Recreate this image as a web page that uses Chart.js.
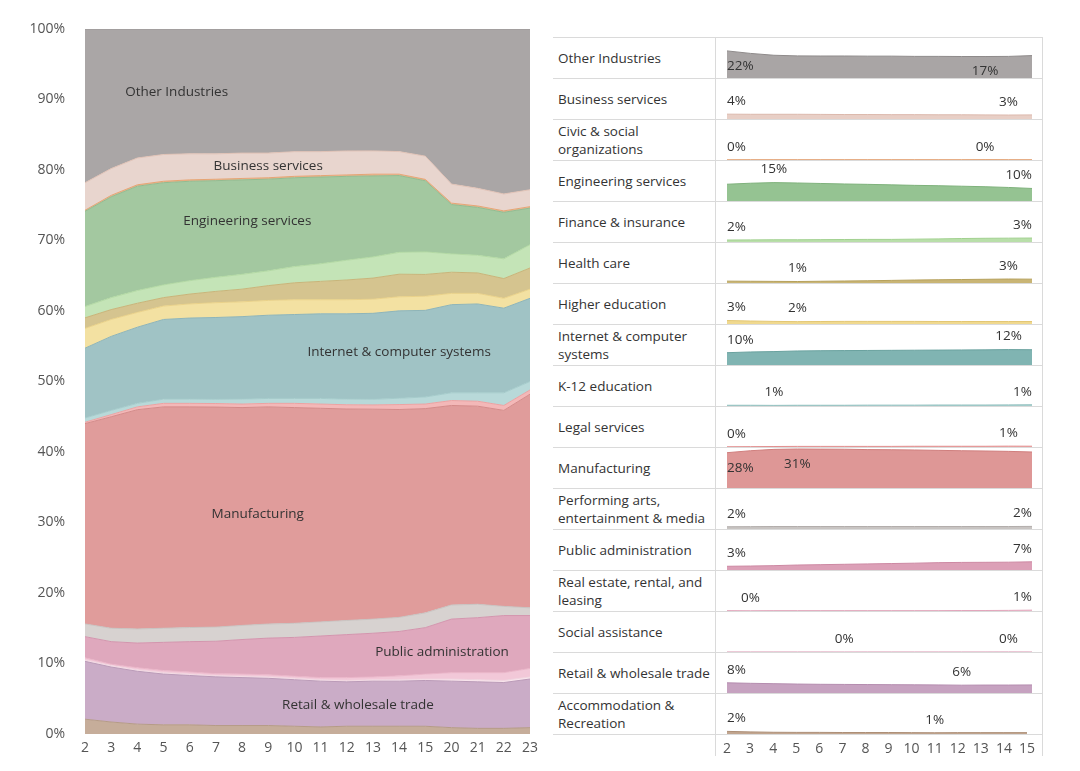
<!DOCTYPE html>
<html><head><meta charset="utf-8">
<script src="https://cdn.jsdelivr.net/npm/chart.js@4.4.1/dist/chart.umd.min.js"></script>
<style>
html,body{margin:0;padding:0;background:#fff;width:1080px;height:771px;overflow:hidden;font-family:"Open Sans",sans-serif;}
#left{position:absolute;left:0;top:0;}
.hline{position:absolute;left:553px;width:489px;height:1px;background:#dadada;}
.vline{position:absolute;width:1px;background:#dadada;}
.lbl{position:absolute;left:558px;width:158px;height:41px;display:flex;align-items:center;font-size:13.5px;line-height:18px;color:#333;white-space:pre-line;}
.cv{position:absolute;left:715px;}
</style>
</head><body>
<canvas id="left" width="545" height="771"></canvas>
<div id="right"></div>
<script>
// ---------- data ----------
const xLabels = ['2','3','4','5','6','7','8','9','10','11','12','13','14','15','20','21','22','23'];
const rightCount = 14; // right panel shows 2..15

const otherIndustries = [21.8,19.8,18.3,17.8,17.7,17.7,17.6,17.6,17.4,17.4,17.3,17.3,17.4,18.05,22.0,22.6,23.4,22.8];
const businessServices = [3.9,3.8,3.8,3.8,3.7,3.6,3.6,3.5,3.5,3.4,3.4,3.3,3.2,3.3,2.7,2.5,2.4,2.4];
const civicSocial = [0.15,0.2,0.2,0.2,0.2,0.2,0.2,0.2,0.2,0.2,0.2,0.25,0.2,0.2,0.2,0.2,0.2,0.2];
const engineering = [13.5,14.3,14.8,14.5,14.1,13.7,13.4,13.0,12.6,12.3,11.9,11.5,10.9,10.1,7.0,6.8,6.6,5.2];
const finance = [1.6,1.7,1.8,1.8,1.9,2.0,2.1,2.1,2.3,2.5,2.8,3.0,3.1,3.2,2.6,2.5,2.8,3.3];
const healthCare = [1.5,1.4,1.3,1.2,1.4,1.6,1.8,2.1,2.4,2.6,2.8,3.0,3.2,3.1,3.0,2.9,2.8,3.0];
const higherEducation = [2.8,2.4,2.1,1.9,2.0,2.1,2.1,2.1,2.1,2.0,2.0,2.0,2.0,2.0,1.6,1.5,1.4,1.3];
const internetComputer = [9.9,10.5,10.8,11.3,11.5,11.6,11.7,11.8,11.9,12.0,12.1,12.2,12.4,12.3,12.5,12.6,12.0,11.8];
const k12Education = [0.6,0.6,0.5,0.6,0.6,0.6,0.7,0.7,0.7,0.8,0.8,0.8,0.9,1.0,1.1,1.2,1.8,1.2];
const legalServices = [0.2,0.3,0.4,0.5,0.5,0.5,0.5,0.5,0.6,0.6,0.6,0.6,0.7,0.65,0.7,0.7,0.7,0.6];
const manufacturing = [28.4,30.0,31.1,31.4,31.3,31.2,30.9,30.8,30.6,30.3,30.0,29.8,29.5,29.0,28.3,28.1,27.8,30.3];
const performingArts = [1.8,1.9,2.0,2.0,2.0,2.0,2.0,2.0,2.0,2.0,2.0,2.0,2.0,2.1,2.0,1.9,1.3,1.1];
const publicAdmin = [3.0,3.2,3.5,4.0,4.3,4.6,4.9,5.2,5.5,5.9,6.1,6.2,6.3,6.6,7.6,7.8,8.1,7.5];
const realEstate = [0.3,0.2,0.3,0.3,0.3,0.3,0.3,0.3,0.3,0.3,0.4,0.4,0.5,0.7,0.9,1.0,1.1,1.2];
const socialAssistance = [0.2,0.2,0.2,0.2,0.2,0.15,0.2,0.2,0.2,0.2,0.2,0.2,0.25,0.2,0.3,0.3,0.3,0.3];
const retailWholesale = [8.2,7.8,7.5,7.2,7.0,6.9,6.8,6.7,6.6,6.5,6.3,6.4,6.4,6.5,6.6,6.6,6.5,6.9];
const accommodation = [2.1,1.7,1.4,1.3,1.3,1.2,1.2,1.2,1.1,1.0,1.1,1.1,1.1,1.1,0.9,0.8,0.8,0.9];

// top-to-bottom order (as in the right panel)
const seriesNames = ['Other Industries','Business services','Civic & social\norganizations','Engineering services','Finance & insurance','Health care','Higher education','Internet & computer\nsystems','K-12 education','Legal services','Manufacturing','Performing arts,\nentertainment & media','Public administration','Real estate, rental, and\nleasing','Social assistance','Retail & wholesale trade','Accommodation &\nRecreation'];
const seriesValues = [otherIndustries,businessServices,civicSocial,engineering,finance,healthCare,higherEducation,internetComputer,k12Education,legalServices,manufacturing,performingArts,publicAdmin,realEstate,socialAssistance,retailWholesale,accommodation];

// ---------- styles ----------
const leftFill = ['#aaa6a6','#e8d5ce','#e9b690','#a3c8a0','#c4e4b7','#d5c48f','#f3e1a2','#a0c3c5','#b8d9d9','#f3b8b8','#e09c9b','#d7d2d0','#dfa8bd','#f2c8d8','#f8e4ec','#caacc7','#c6ad9a'];
const leftLine = ['#999595','#e0c2b6','#e6a575','#93bb90','#b3d9a4','#c8b57a','#ead28a','#8fb5b8','#a5cbcb','#eba3a3','#d48b8a','#c9c4c2','#d396ae','#eab5c8','#f0d4df','#bb9bb8','#b59b87'];
const rightFill = ['#a9a5a5','#e8cfc6','#e9b690','#95c392','#b9dfaa','#c9b575','#f0d98f','#80b4b2','#a9d0cf','#eea9a9','#de9796','#c8c4c2','#dca0b7','#efbfd0','#f2d3df','#c6a2c0','#c1a58f'];
const rightLine = ['#8f8b8b','#dcb9ad','#e09a68','#7fb27c','#a2d190','#b6a15c','#e3c774','#6aa29f','#92c0bf','#e39090','#d07f7e','#b3aeac','#cd89a3','#e3a6bc','#e7bccd','#b58daf','#ad8f77'];
const FONT = '"Open Sans", sans-serif';

// ---------- 100% shares ----------
const totals = xLabels.map((_, i) => seriesValues.reduce((s, a) => s + a[i], 0));
const shares = seriesValues.map(a => a.map((v, i) => v / totals[i] * 100));

// ---------- left chart ----------
const bandLabels = [
  {text:'Other Industries', x:3.5, y:91.1},
  {text:'Business services', x:7.0, y:80.6},
  {text:'Engineering services', x:6.2, y:72.7},
  {text:'Internet & computer systems', x:12.0, y:54.1},
  {text:'Manufacturing', x:6.6, y:31.2},
  {text:'Public administration', x:13.64, y:11.6},
  {text:'Retail & wholesale trade', x:10.43, y:4.1}
];
const bandLabelPlugin = {
  id:'bandLabels',
  afterDatasetsDraw(chart){
    const ctx = chart.ctx, xs = chart.scales.x, ys = chart.scales.y;
    ctx.save();
    ctx.font = '13.5px ' + FONT; ctx.fillStyle = '#333'; ctx.textAlign = 'center'; ctx.textBaseline = 'middle';
    bandLabels.forEach(l => ctx.fillText(l.text, xs.getPixelForValue(l.x), ys.getPixelForValue(l.y)));
    ctx.restore();
  }
};
const leftDatasets = shares.map((arr, k) => ({
  label: seriesNames[k].replace('\n',' '),
  data: arr,
  backgroundColor: leftFill[k],
  borderColor: leftLine[k],
  borderWidth: 1,
  pointRadius: 0,
  tension: 0
})).reverse();
leftDatasets.forEach((d, i) => { d.fill = i === 0 ? 'origin' : '-1'; });

new Chart(document.getElementById('left'), {
  type:'line',
  data:{labels:xLabels, datasets:leftDatasets},
  options:{
    responsive:false, animation:false, devicePixelRatio:1,
    layout:{padding:{left:0,right:15,top:29,bottom:0}},
    plugins:{legend:{display:false}, tooltip:{enabled:false}},
    scales:{
      x:{grid:{display:false, drawTicks:false}, border:{display:false},
         ticks:{font:{family:FONT,size:14}, color:'#555', padding:6, maxRotation:0, autoSkip:false},
         afterFit(s){ s.height = 37; }},
      y:{stacked:true, min:0, max:100, grid:{display:false, drawTicks:false}, border:{display:false},
         ticks:{stepSize:10, font:{family:FONT,size:14}, color:'#555', padding:20, callback:v => v + '%'},
         afterFit(s){ s.width = 85; }}
    }
  },
  plugins:[bandLabelPlugin]
});

// ---------- right panel ----------
const minMaxPlugin = {
  id:'minMaxLabels',
  afterDatasetsDraw(chart){
    const vals = chart.data.datasets[0].data;
    let mi = 0, ma = 0;
    vals.forEach((v, i) => { if (v < vals[mi]) mi = i; if (v > vals[ma]) ma = i; });
    const ctx = chart.ctx, area = chart.chartArea, xs = chart.scales.x, ys = chart.scales.y;
    ctx.save();
    ctx.font = '13.5px ' + FONT; ctx.fillStyle = '#333'; ctx.textAlign = 'left'; ctx.textBaseline = 'middle';
    const idxs = mi === ma ? [mi] : [mi, ma];
    idxs.forEach(i => {
      const txt = Math.round(vals[i]) + '%';
      const w = ctx.measureText(txt).width;
      let x = xs.getPixelForValue(i) - w / 2;
      x = Math.max(area.left, Math.min(area.right - w, x));
      const py = ys.getPixelForValue(vals[i]);
      let y = py - 13;
      if (y < 8) y = py + 15;
      ctx.fillText(txt, x, y);
    });
    ctx.restore();
  }
};

const right = document.getElementById('right');
const ROW_TOP = 37, ROW_H = 41, N = seriesNames.length;
for (let k = 0; k <= N; k++) {
  const l = document.createElement('div'); l.className = 'hline'; l.style.top = (ROW_TOP + ROW_H * k) + 'px'; right.appendChild(l);
}
[715, 1042].forEach(x => {
  const v = document.createElement('div'); v.className = 'vline';
  v.style.left = x + 'px'; v.style.top = ROW_TOP + 'px'; v.style.height = (ROW_H * N + 22) + 'px';
  right.appendChild(v);
});
const rightLabels = xLabels.slice(0, rightCount);
seriesNames.forEach((name, k) => {
  const top = ROW_TOP + ROW_H * k;
  const lb = document.createElement('div'); lb.className = 'lbl'; lb.style.top = top + 'px'; lb.textContent = name;
  right.appendChild(lb);
  const last = k === N - 1;
  const c = document.createElement('canvas'); c.className = 'cv';
  c.width = 327; c.height = last ? ROW_H + 37 : ROW_H; c.style.top = top + 'px';
  right.appendChild(c);
  new Chart(c, {
    type:'line',
    data:{labels:rightLabels, datasets:[{
      data: shares[k].slice(0, rightCount), fill:'origin',
      backgroundColor: rightFill[k], borderColor: rightLine[k], borderWidth:1, pointRadius:0, tension:0
    }]},
    options:{
      responsive:false, animation:false, devicePixelRatio:1,
      layout:{padding:{left:12,right:10,top:0,bottom:0}},
      plugins:{legend:{display:false}, tooltip:{enabled:false}},
      scales:{
        x: last ? {grid:{display:false, drawTicks:false}, border:{display:false},
                   ticks:{font:{family:FONT,size:14}, color:'#555', padding:7, maxRotation:0, autoSkip:false},
                   afterFit(s){ s.height = 37; }}
                : {display:false},
        y:{display:false, min:0, max:33}
      }
    },
    plugins:[minMaxPlugin]
  });
});
</script>
</body></html>
